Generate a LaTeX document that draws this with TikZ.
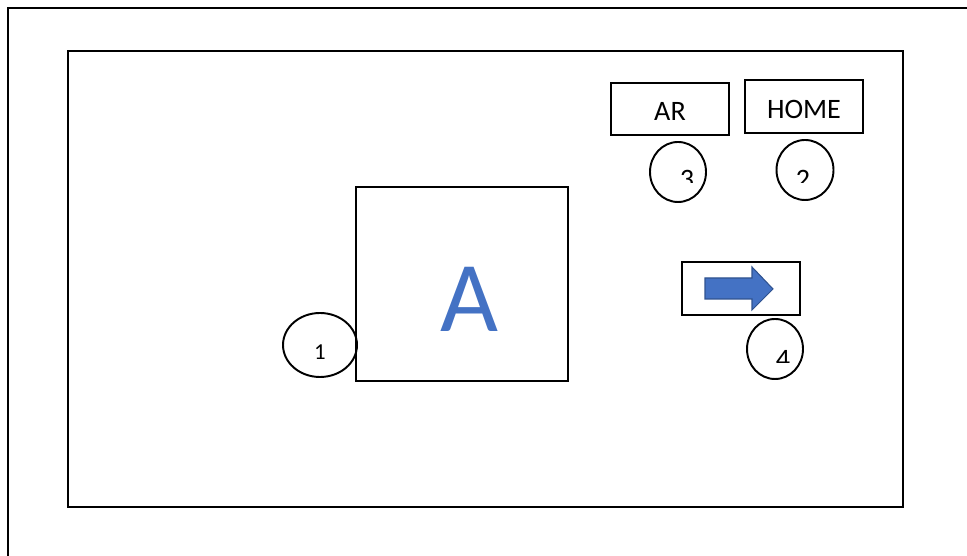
\documentclass[tikz,border=0pt]{standalone}
\usepackage{fontspec}
\setmainfont{Carlito}
\usepackage{tikz}
\usetikzlibrary{shapes.geometric}
\definecolor{arblue}{HTML}{4472C4}
\definecolor{arblueline}{HTML}{2F528F}

\tikzset{
  button/.style={draw, line width=1.1pt, minimum width=2.36cm, minimum height=1.05cm, inner sep=0pt, text height=0.48cm, text depth=0cm, font=\fontsize{16}{18}\selectfont},
  callout/.style={draw, ellipse, line width=1.1pt, inner sep=0pt},
  num/.style={anchor=north, inner sep=0pt, font=\fontsize{16}{18}\selectfont}
}

\begin{document}
\begin{tikzpicture}[x=1cm, y=1cm]
    \useasboundingbox (0,0) rectangle (19.34,11.12);

    % Cadre ext\'erieur
    \draw[line width=1.5pt] (0.16,-0.2) -- (0.16,10.96) -- (19.6,10.96);

    % \'Ecran
    \draw[line width=1.1pt] (1.36,0.98) rectangle (18.06,10.1);

    % Zone A
    \node[draw, line width=1.1pt, minimum width=4.24cm, minimum height=3.88cm] (zoneA) at (9.24,5.44) {};
    \node[text=arblue, font=\fontsize{57}{60}\selectfont] (lettreA) at (9.38,5.14) {A};

    % Boutons
    \node[button] (ar) at (13.4,8.94) {AR};
    \node[button] (home) at (16.08,8.99) {HOME};
    \node[button] (suiv) at (14.82,5.35) {};

    % Fl\`eche
    \draw[fill=arblue, draw=arblueline, line width=0.6pt]
        (14.1,5.14) -- (14.1,5.56) -- (15.04,5.56) -- (15.04,5.78)
        -- (15.46,5.34) -- (15.04,4.92) -- (15.04,5.14) -- cycle;

    % Rep\`eres
    \node[callout, minimum width=1.48cm, minimum height=1.28cm] (c1) at (6.4,4.22) {};
    \node[font=\fontsize{13}{15}\selectfont] (n1) at (6.4,4.08) {1};
    \node[callout, minimum width=1.12cm, minimum height=1.2cm] (c3) at (13.56,7.68) {};
    \node[callout, minimum width=1.14cm, minimum height=1.2cm] (c2) at (16.1,7.72) {};
    \node[callout, minimum width=1.12cm, minimum height=1.2cm] (c4) at (15.5,4.14) {};

    % Num\'eros coup\'es
    \begin{scope}
        \clip (13.4,7.46) rectangle (14.1,7.9)
              (15.7,7.46) rectangle (16.4,7.9)
              (15.3,3.86) rectangle (16.0,4.3);
        \node[num] (n3) at (13.74,7.72) {3};
        \node[num] (n2) at (16.06,7.72) {2};
        \node[num] (n4) at (15.66,4.12) {4};
    \end{scope}
\end{tikzpicture}
\end{document}
